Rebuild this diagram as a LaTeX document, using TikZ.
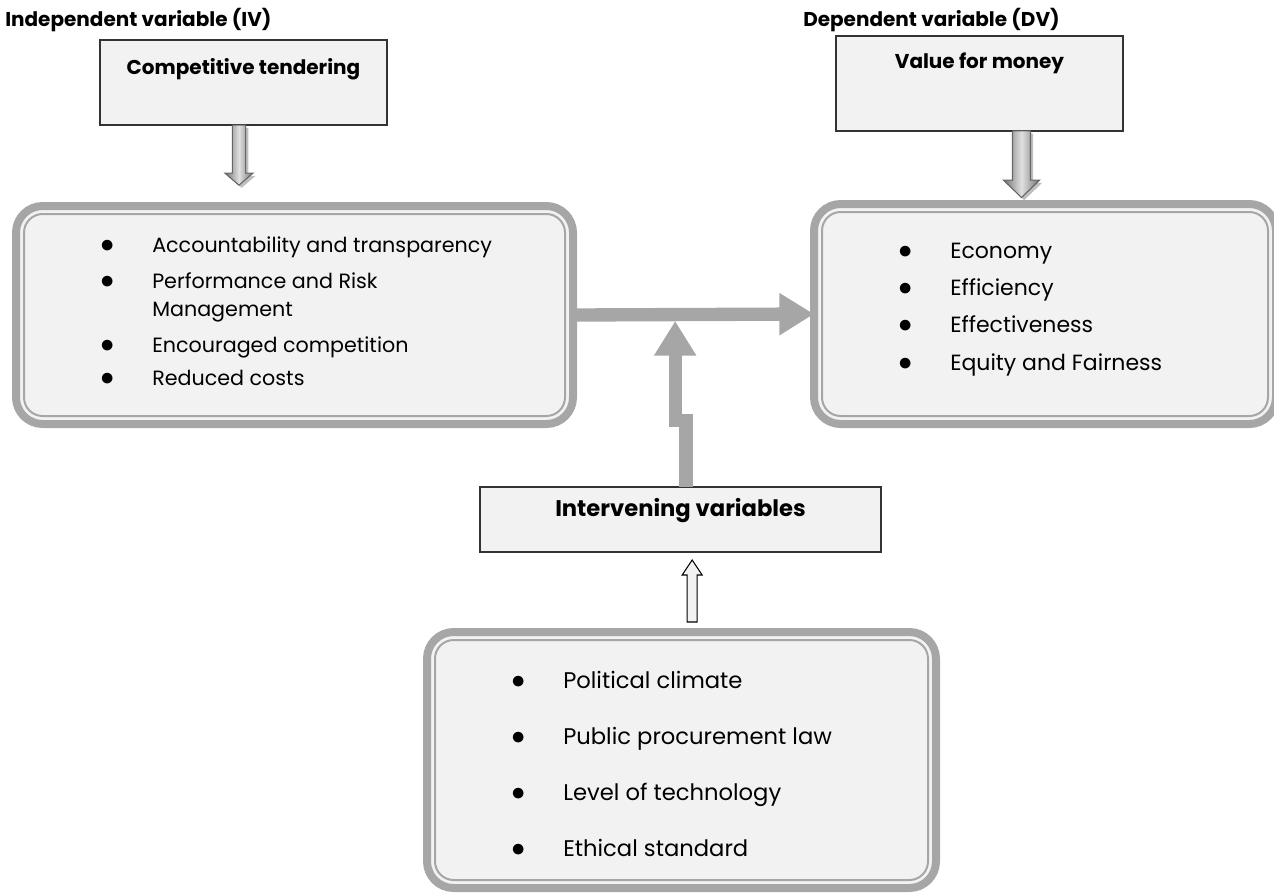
\documentclass[tikz,border=0pt]{standalone}
\usepackage{fontspec}
\setmainfont{Poppins}
\usetikzlibrary{calc,arrows.meta,positioning}

\definecolor{boxgray}{HTML}{A6A6A6}
\definecolor{boxfill}{HTML}{F2F2F2}

\newcommand{\itembul}{{\fontsize{21}{21}\selectfont\(\bullet\)}}

\tikzset{
  headtext/.style={font=\fontsize{15}{18}\selectfont\bfseries,inner sep=0pt},
  plainbox/.style={rectangle,draw=black!80,line width=1.2pt,fill=boxfill,outer sep=0pt},
  roundbox/.style={rectangle,rounded corners=20pt,draw=boxgray,line width=6pt,fill=boxfill,outer sep=0pt},
  innerline/.style={draw=boxgray,line width=1.5pt,rounded corners=14pt},
  itemlist/.style={font=\fontsize{15.5}{21}\selectfont,inner sep=0pt,anchor=west},
  shadedarrow/.style={draw=black!60,line width=0.8pt,left color=black!55,right color=black!55,middle color=black!12,
    preaction={fill=black!25,transform canvas={shift={(2pt,-2pt)}}}},
  fatarrow/.style={draw=boxgray,line width=10pt,-{Triangle[length=26pt,width=30pt]}},
  hollowarrow/.style={draw=black,line width=0.8pt,fill=boxfill}
}

\begin{document}
\begin{tikzpicture}[x=0.75pt,y=-0.75pt]
        \useasboundingbox (0,0) rectangle (1274,894);

        % headings
        \node[headtext,anchor=west] (ivhead) at (5,20) {Independent variable (IV)};
        \node[headtext,anchor=west] (dvhead) at (803,20) {Dependent variable (DV)};

        % top boxes
        \node[plainbox,minimum width=215pt,minimum height=64pt] (ct) at (243.5,82.5) {};
        \node[headtext] at ([yshift=-22pt]ct.north) {Competitive tendering};
        \node[plainbox,minimum width=215pt,minimum height=71pt] (vfm) at (979.5,83.5) {};
        \node[headtext] at ([yshift=-20pt]vfm.north) {Value for money};

        % rounded boxes
        \node[roundbox,minimum width=417.75pt,minimum height=163.5pt] (ctbox) at (294.5,315) {};
        \node[itemlist] (ctitems) at ([xshift=63pt,yshift=1pt]ctbox.west) {%
          \begin{tabular}{@{}p{39pt}@{}l@{}}
            \itembul & Accountability and transparency\\[6pt]
            \itembul & Performance and Risk\\
                     & Management\\[6pt]
            \itembul & Encouraged competition\\[4pt]
            \itembul & Reduced costs
          \end{tabular}};

        \node[roundbox,minimum width=346.5pt,minimum height=165pt] (vfmbox) at (1045,314) {};
        \node[itemlist,font=\fontsize{16.5}{21}\selectfont] (vfmitems) at ([xshift=63pt,yshift=4pt]vfmbox.west) {%
          \begin{tabular}{@{}p{39pt}@{}l@{}}
            \itembul & Economy\\[7pt]
            \itembul & Efficiency\\[7pt]
            \itembul & Effectiveness\\[7pt]
            \itembul & Equity and Fairness
          \end{tabular}};

        \node[plainbox,minimum width=300.75pt,minimum height=48.75pt] (inter) at (680.5,519.5) {};
        \node[headtext,font=\fontsize{17}{20}\selectfont\bfseries] at ([yshift=-18pt]inter.north) {Intervening variables};

        \node[roundbox,minimum width=381.75pt,minimum height=192pt] (ext) at (681.5,760) {};
        \node[itemlist,font=\fontsize{17}{21}\selectfont] (extitems) at ([xshift=63pt,yshift=-5pt]ext.west) {%
          \begin{tabular}{@{}p{39pt}@{}l@{}}
            \itembul & Political climate\\[21pt]
            \itembul & Public procurement law\\[21pt]
            \itembul & Level of technology\\[21pt]
            \itembul & Ethical standard
          \end{tabular}};

        % double rim of the rounded boxes
        \foreach \b in {ctbox,vfmbox,ext}
          \draw[innerline] ([shift={(6pt,6pt)}]\b.south west) rectangle ([shift={(-6pt,-6pt)}]\b.north east);

        % arrows
        \filldraw[shadedarrow] ([xshift=-8.4pt]ct.south) -- ++(0,-36pt) -- ++(-5.5pt,0) -- ++(10.5pt,-9pt)
          -- ++(10.5pt,9pt) -- ++(-5.5pt,0) -- ++(0,36pt) -- cycle;
        \filldraw[shadedarrow] ([xshift=24.75pt]vfm.south) -- ++(0,-37pt) -- ++(-6.75pt,0) -- ++(13.5pt,-13pt)
          -- ++(13.5pt,13pt) -- ++(-6.75pt,0) -- ++(0,37pt) -- cycle;

        \coordinate (meet) at ($(inter.north |- ctbox.east)+(-4pt,-4.5pt)$);
        \draw[fatarrow] (ctbox.east) -- (vfmbox.west);
        \draw[fatarrow] ([xshift=4pt]inter.north) -- ++(0,50pt) -| (meet);

        \filldraw[hollowarrow] ($(ext.north)+(4.25pt,7.5pt)$) -- ++(0,35.25pt) -- ++(-3.75pt,0) -- ++(7.5pt,11.25pt)
          -- ++(7.5pt,-11.25pt) -- ++(-3.75pt,0) -- ++(0,-35.25pt) -- cycle;
    \end{tikzpicture}
\end{document}
